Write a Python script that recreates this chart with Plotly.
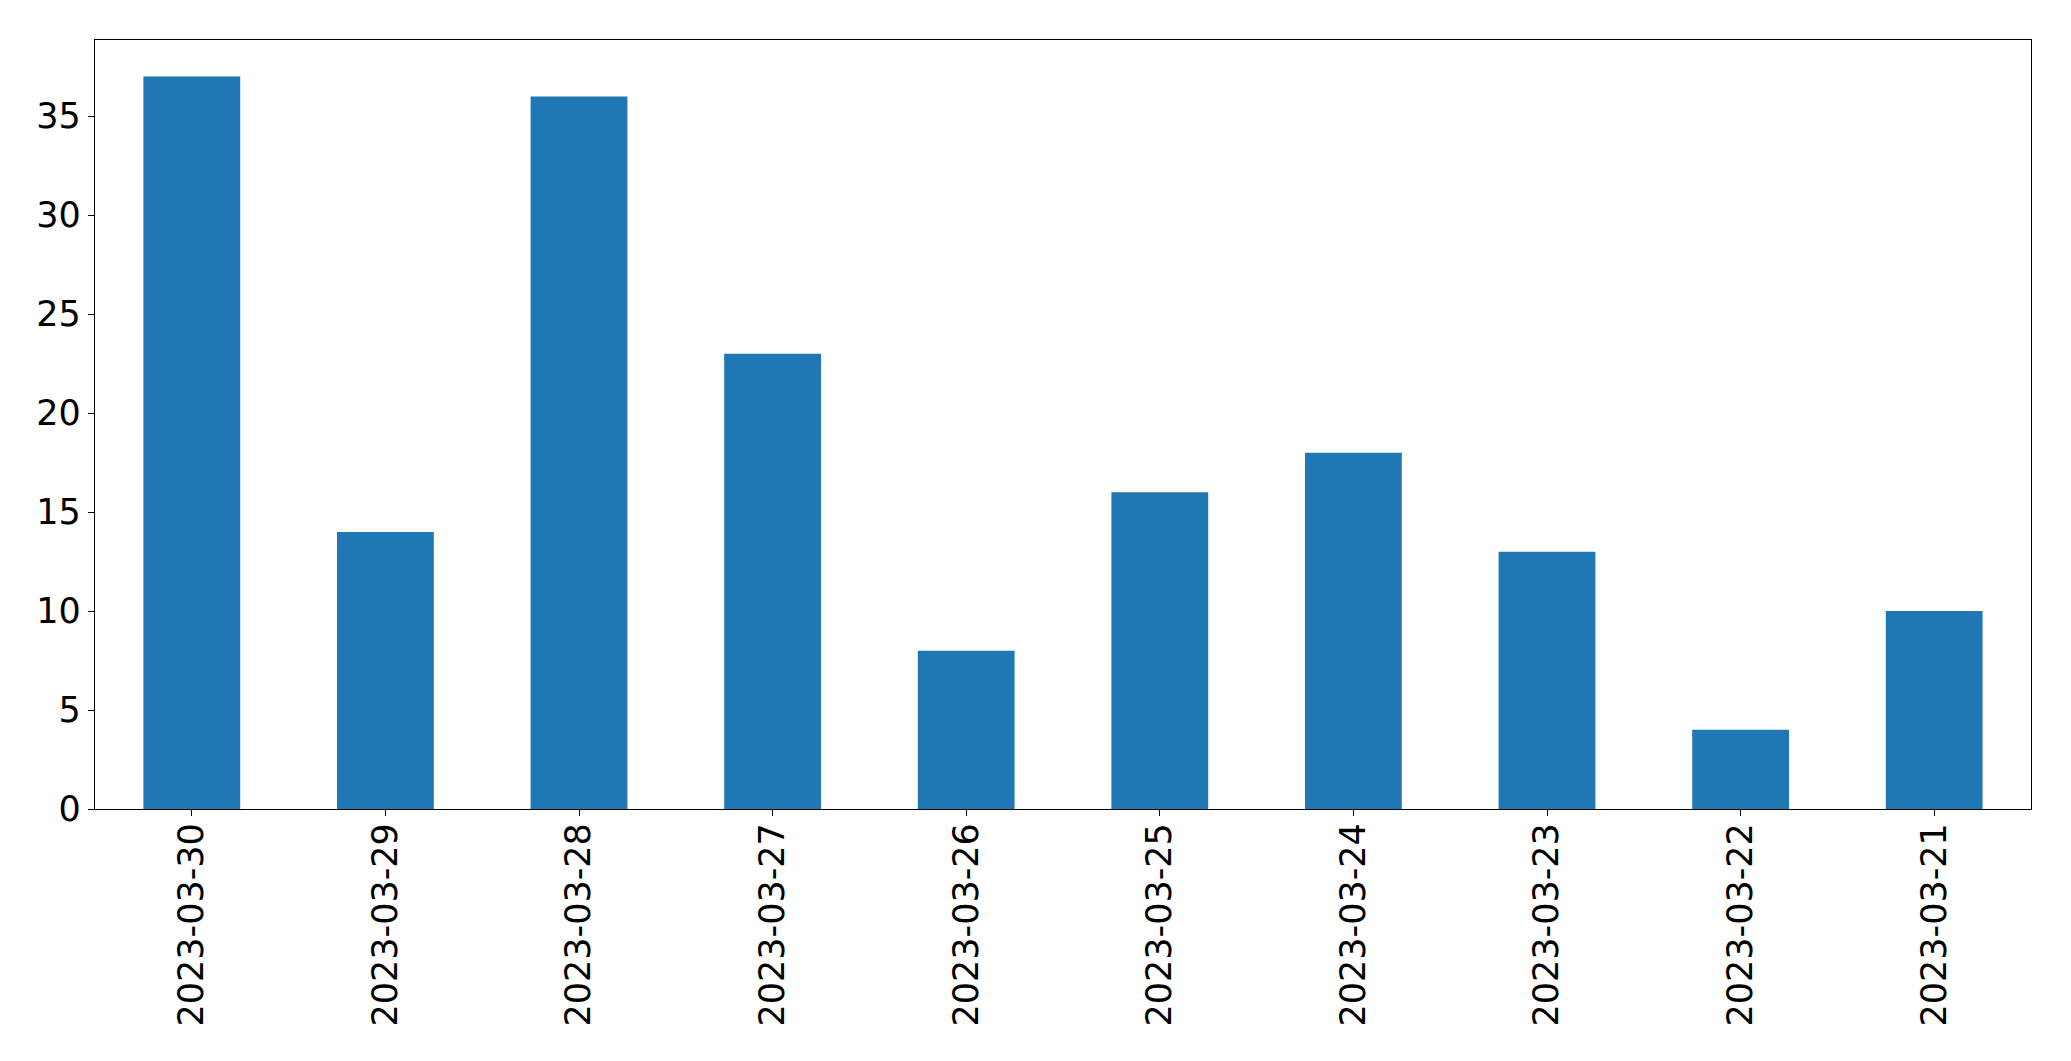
import plotly.graph_objects as go

dates = ["2023-03-30", "2023-03-29", "2023-03-28", "2023-03-27", "2023-03-26",
         "2023-03-25", "2023-03-24", "2023-03-23", "2023-03-22", "2023-03-21"]
counts = [37, 14, 36, 23, 8, 16, 18, 13, 4, 10]

fig = go.Figure(go.Bar(x=dates, y=counts, marker=dict(color="#1f77b4", line=dict(width=0)), width=0.5))

# page body has an 8px margin, so the figure is drawn slightly smaller and offset
fig.update_layout(
    width=2063, height=1053,
    margin=dict(l=86.5, r=39.5, t=31.5, b=252, autoexpand=False),
    plot_bgcolor="white", paper_bgcolor="white",
    font=dict(family="DejaVu Sans", size=35, color="black"),
    showlegend=False,
    bargap=0.5,
)
fig.update_xaxes(
    type="category", range=[-0.5, 9.5], automargin=False,
    showline=True, linecolor="black", linewidth=1.3, mirror=True,
    ticks="outside", ticklen=6, tickwidth=1.3, tickcolor="black",
    tickangle=-90, showgrid=False, zeroline=False, ticklabelstandoff=-7,
)
fig.update_yaxes(
    range=[0, 38.85], tickvals=[0, 5, 10, 15, 20, 25, 30, 35], automargin=False,
    showline=True, linecolor="black", linewidth=1.3, mirror=True,
    ticks="outside", ticklen=6, tickwidth=1.3, tickcolor="black",
    showgrid=False, zeroline=False,
)

fig.write_html("out.html")
